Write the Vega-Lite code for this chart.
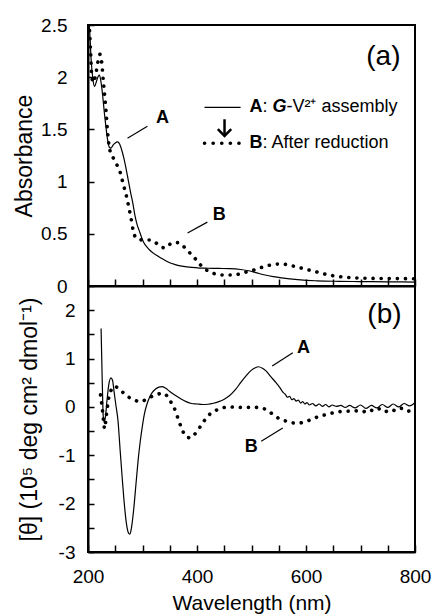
{
  "$schema": "https://vega.github.io/schema/vega-lite/v6.json",
  "background": "white",
  "padding": {"left": 12, "top": 15, "right": 0, "bottom": 0},
  "spacing": 0,
  "bounds": "flush",
  "config": {
    "font": "Liberation Sans",
    "view": {"stroke": "black", "strokeWidth": 2},
    "axis": {
      "grid": false, "domainColor": "black", "domainWidth": 2,
      "tickColor": "black", "tickWidth": 1.5,
      "labelColor": "black", "titleColor": "black",
      "labelFont": "Liberation Sans", "titleFont": "Liberation Sans",
      "labelFontSize": 19, "titleFontSize": 23, "titleFontWeight": "normal"
    },
    "concat": {"spacing": 0}
  },
  "datasets": {
    "absA": [
      {"nm": 201, "v": 2.6}, {"nm": 203, "v": 2.45}, {"nm": 206, "v": 2.15}, {"nm": 209, "v": 1.98},
      {"nm": 212, "v": 1.91}, {"nm": 215, "v": 1.95}, {"nm": 218, "v": 2.0}, {"nm": 221, "v": 2.02},
      {"nm": 224, "v": 1.95}, {"nm": 227, "v": 1.82}, {"nm": 230, "v": 1.66}, {"nm": 233, "v": 1.52},
      {"nm": 236, "v": 1.4}, {"nm": 239, "v": 1.33}, {"nm": 242, "v": 1.32}, {"nm": 246, "v": 1.35},
      {"nm": 250, "v": 1.37}, {"nm": 254, "v": 1.38}, {"nm": 258, "v": 1.36}, {"nm": 262, "v": 1.3},
      {"nm": 266, "v": 1.22}, {"nm": 270, "v": 1.12}, {"nm": 274, "v": 1.01}, {"nm": 278, "v": 0.9},
      {"nm": 282, "v": 0.8}, {"nm": 286, "v": 0.68}, {"nm": 290, "v": 0.59}, {"nm": 294, "v": 0.53},
      {"nm": 298, "v": 0.47}, {"nm": 302, "v": 0.42}, {"nm": 308, "v": 0.375}, {"nm": 314, "v": 0.34},
      {"nm": 320, "v": 0.315}, {"nm": 330, "v": 0.28}, {"nm": 340, "v": 0.25}, {"nm": 350, "v": 0.222},
      {"nm": 360, "v": 0.205}, {"nm": 375, "v": 0.188}, {"nm": 390, "v": 0.178}, {"nm": 405, "v": 0.172},
      {"nm": 420, "v": 0.17}, {"nm": 440, "v": 0.168}, {"nm": 460, "v": 0.166}, {"nm": 480, "v": 0.158},
      {"nm": 495, "v": 0.146}, {"nm": 510, "v": 0.125}, {"nm": 525, "v": 0.105}, {"nm": 540, "v": 0.09},
      {"nm": 555, "v": 0.078}, {"nm": 570, "v": 0.068}, {"nm": 590, "v": 0.058}, {"nm": 620, "v": 0.05},
      {"nm": 660, "v": 0.045}, {"nm": 700, "v": 0.042}, {"nm": 750, "v": 0.04}, {"nm": 800, "v": 0.038}
    ],
    "absB": [
      {"nm": 201, "v": 2.6}, {"nm": 203, "v": 2.44}, {"nm": 205, "v": 2.22}, {"nm": 207, "v": 2.0},
      {"nm": 210, "v": 1.95}, {"nm": 214, "v": 2.02}, {"nm": 218, "v": 2.14}, {"nm": 222, "v": 2.22},
      {"nm": 225, "v": 2.15}, {"nm": 228, "v": 1.97}, {"nm": 230, "v": 1.86}, {"nm": 233, "v": 1.68},
      {"nm": 236, "v": 1.47}, {"nm": 239, "v": 1.33}, {"nm": 242, "v": 1.27}, {"nm": 246, "v": 1.23},
      {"nm": 252, "v": 1.17}, {"nm": 259, "v": 1.09}, {"nm": 263, "v": 1.01}, {"nm": 267, "v": 0.93},
      {"nm": 271, "v": 0.85}, {"nm": 275, "v": 0.75}, {"nm": 279, "v": 0.65}, {"nm": 283, "v": 0.53},
      {"nm": 288, "v": 0.46}, {"nm": 294, "v": 0.445}, {"nm": 303, "v": 0.44}, {"nm": 312, "v": 0.44},
      {"nm": 318, "v": 0.435}, {"nm": 328, "v": 0.4}, {"nm": 336, "v": 0.37}, {"nm": 342, "v": 0.365},
      {"nm": 348, "v": 0.39}, {"nm": 355, "v": 0.415}, {"nm": 365, "v": 0.415}, {"nm": 372, "v": 0.395},
      {"nm": 380, "v": 0.355}, {"nm": 389, "v": 0.305}, {"nm": 397, "v": 0.26}, {"nm": 405, "v": 0.21},
      {"nm": 412, "v": 0.175}, {"nm": 420, "v": 0.145}, {"nm": 434, "v": 0.115}, {"nm": 448, "v": 0.105},
      {"nm": 463, "v": 0.105}, {"nm": 478, "v": 0.115}, {"nm": 492, "v": 0.137}, {"nm": 506, "v": 0.155},
      {"nm": 520, "v": 0.18}, {"nm": 534, "v": 0.2}, {"nm": 548, "v": 0.21}, {"nm": 562, "v": 0.207},
      {"nm": 577, "v": 0.19}, {"nm": 591, "v": 0.172}, {"nm": 605, "v": 0.153}, {"nm": 620, "v": 0.134},
      {"nm": 634, "v": 0.115}, {"nm": 649, "v": 0.099}, {"nm": 663, "v": 0.089}, {"nm": 677, "v": 0.082},
      {"nm": 692, "v": 0.077}, {"nm": 710, "v": 0.074}, {"nm": 740, "v": 0.072}, {"nm": 770, "v": 0.071},
      {"nm": 800, "v": 0.07}
    ],
    "cdA": [
      {"nm": 224, "v": 1.62}, {"nm": 226, "v": 0.6}, {"nm": 228, "v": -0.2}, {"nm": 230, "v": -0.32},
      {"nm": 232, "v": -0.2}, {"nm": 235, "v": 0.15}, {"nm": 238, "v": 0.45}, {"nm": 242, "v": 0.6},
      {"nm": 245, "v": 0.55}, {"nm": 248, "v": 0.3}, {"nm": 251, "v": 0.05}, {"nm": 255, "v": -0.28},
      {"nm": 259, "v": -0.9}, {"nm": 263, "v": -1.5}, {"nm": 267, "v": -2.05}, {"nm": 271, "v": -2.45},
      {"nm": 275, "v": -2.62}, {"nm": 277, "v": -2.63}, {"nm": 280, "v": -2.48}, {"nm": 284, "v": -2.1},
      {"nm": 288, "v": -1.6}, {"nm": 292, "v": -1.1}, {"nm": 296, "v": -0.7}, {"nm": 300, "v": -0.38},
      {"nm": 304, "v": -0.12}, {"nm": 308, "v": 0.05}, {"nm": 313, "v": 0.2}, {"nm": 318, "v": 0.3},
      {"nm": 324, "v": 0.37}, {"nm": 330, "v": 0.41}, {"nm": 336, "v": 0.42}, {"nm": 342, "v": 0.39},
      {"nm": 350, "v": 0.32}, {"nm": 360, "v": 0.24}, {"nm": 370, "v": 0.17}, {"nm": 380, "v": 0.11},
      {"nm": 390, "v": 0.07}, {"nm": 400, "v": 0.06}, {"nm": 410, "v": 0.05}, {"nm": 420, "v": 0.055},
      {"nm": 430, "v": 0.075}, {"nm": 440, "v": 0.11}, {"nm": 450, "v": 0.16}, {"nm": 460, "v": 0.235},
      {"nm": 470, "v": 0.35}, {"nm": 480, "v": 0.5}, {"nm": 490, "v": 0.64}, {"nm": 500, "v": 0.76},
      {"nm": 507, "v": 0.81}, {"nm": 513, "v": 0.83}, {"nm": 520, "v": 0.8}, {"nm": 527, "v": 0.74},
      {"nm": 535, "v": 0.63}, {"nm": 545, "v": 0.5}, {"nm": 552, "v": 0.4}, {"nm": 558, "v": 0.3},
      {"nm": 562, "v": 0.26}, {"nm": 566, "v": 0.2}, {"nm": 570, "v": 0.22}, {"nm": 574, "v": 0.15},
      {"nm": 578, "v": 0.17}, {"nm": 582, "v": 0.12}, {"nm": 586, "v": 0.14}, {"nm": 590, "v": 0.08},
      {"nm": 594, "v": 0.11}, {"nm": 598, "v": 0.06}, {"nm": 602, "v": 0.09}, {"nm": 606, "v": 0.04},
      {"nm": 612, "v": 0.07}, {"nm": 618, "v": 0.02}, {"nm": 624, "v": 0.06}, {"nm": 630, "v": 0.01},
      {"nm": 636, "v": 0.05}, {"nm": 642, "v": 0.0}, {"nm": 648, "v": 0.04}, {"nm": 656, "v": 0.01},
      {"nm": 664, "v": 0.03}, {"nm": 672, "v": -0.01}, {"nm": 680, "v": 0.03}, {"nm": 690, "v": -0.02},
      {"nm": 700, "v": 0.04}, {"nm": 710, "v": -0.03}, {"nm": 720, "v": 0.03}, {"nm": 730, "v": -0.02},
      {"nm": 740, "v": 0.05}, {"nm": 750, "v": -0.01}, {"nm": 760, "v": 0.06}, {"nm": 770, "v": 0.0},
      {"nm": 780, "v": 0.07}, {"nm": 790, "v": 0.02}, {"nm": 800, "v": 0.09}
    ],
    "cdB": [
      {"nm": 223, "v": 0.25}, {"nm": 225, "v": 0.08}, {"nm": 227, "v": -0.12}, {"nm": 229, "v": -0.35},
      {"nm": 230.5, "v": -0.45}, {"nm": 232, "v": -0.35}, {"nm": 234, "v": -0.15}, {"nm": 236, "v": 0.03},
      {"nm": 238, "v": 0.18}, {"nm": 241, "v": 0.3}, {"nm": 246, "v": 0.42}, {"nm": 252, "v": 0.41},
      {"nm": 258, "v": 0.36}, {"nm": 264, "v": 0.3}, {"nm": 272, "v": 0.22}, {"nm": 280, "v": 0.17},
      {"nm": 288, "v": 0.13}, {"nm": 295, "v": 0.11}, {"nm": 302, "v": 0.13}, {"nm": 310, "v": 0.18},
      {"nm": 318, "v": 0.22}, {"nm": 326, "v": 0.25}, {"nm": 334, "v": 0.28}, {"nm": 340, "v": 0.275},
      {"nm": 346, "v": 0.21}, {"nm": 351, "v": 0.12}, {"nm": 356, "v": 0.03}, {"nm": 361, "v": -0.1},
      {"nm": 366, "v": -0.27}, {"nm": 371, "v": -0.42}, {"nm": 377, "v": -0.57}, {"nm": 383, "v": -0.63},
      {"nm": 388, "v": -0.64}, {"nm": 393, "v": -0.6}, {"nm": 399, "v": -0.52}, {"nm": 404, "v": -0.44},
      {"nm": 408, "v": -0.38}, {"nm": 415, "v": -0.26}, {"nm": 424, "v": -0.145}, {"nm": 435, "v": -0.07},
      {"nm": 447, "v": -0.02}, {"nm": 460, "v": 0.0}, {"nm": 475, "v": -0.01}, {"nm": 490, "v": -0.01},
      {"nm": 508, "v": -0.01}, {"nm": 520, "v": -0.03}, {"nm": 530, "v": -0.07}, {"nm": 538, "v": -0.145},
      {"nm": 546, "v": -0.21}, {"nm": 556, "v": -0.27}, {"nm": 566, "v": -0.3}, {"nm": 576, "v": -0.33},
      {"nm": 585, "v": -0.34}, {"nm": 594, "v": -0.32}, {"nm": 603, "v": -0.29}, {"nm": 612, "v": -0.25},
      {"nm": 625, "v": -0.19}, {"nm": 637, "v": -0.16}, {"nm": 649, "v": -0.125}, {"nm": 661, "v": -0.1},
      {"nm": 675, "v": -0.09}, {"nm": 690, "v": -0.08}, {"nm": 705, "v": -0.1}, {"nm": 715, "v": -0.05},
      {"nm": 725, "v": -0.09}, {"nm": 735, "v": -0.04}, {"nm": 745, "v": -0.1}, {"nm": 755, "v": -0.05},
      {"nm": 765, "v": -0.08}, {"nm": 775, "v": -0.03}, {"nm": 785, "v": -0.09}, {"nm": 800, "v": -0.04}
    ],
    "letA": [{"nm": 336.7, "v": 1.606, "t": "A"}, {"nm": 441, "v": 0.679, "t": "B"}],
    "leadA": [{"nm": 272.5, "v": 1.415, "nm2": 309, "v2": 1.53}, {"nm": 382.6, "v": 0.507, "nm2": 419, "v2": 0.612}],
    "legBold": [{"nm": 496.3, "v": 1.711, "t": "A"}, {"nm": 496.3, "v": 1.367, "t": "B"}],
    "legNormal": [{"nm": 520.2, "v": 1.711, "t": ":"}, {"nm": 564.2, "v": 1.711, "t": "-V²⁺ assembly"}, {"nm": 520.2, "v": 1.367, "t": ": After reduction"}],
    "legItalic": [{"nm": 538.5, "v": 1.711, "t": "G"}],
    "legSolid": [{"nm": 413.8, "v": 1.711, "nm2": 480, "v2": 1.711}],
    "legDotted": [{"nm": 413.8, "v": 1.367, "nm2": 480, "v2": 1.367}],
    "arrow": [{"nm": 450.5, "v": 1.597, "nm2": 450.5, "v2": 1.45}],
    "arrowHead": [{"nm": 450.5, "v": 1.438}],
    "panelA": [{"nm": 742, "v": 2.19, "t": "(a)"}],
    "letB": [{"nm": 595.4, "v": 1.218, "t": "A"}, {"nm": 499.4, "v": -0.836, "t": "B"}],
    "leadB": [{"nm": 538, "v": 0.844, "nm2": 575.8, "v2": 1.12}, {"nm": 517.8, "v": -0.712, "nm2": 557.4, "v2": -0.436}],
    "panelB": [{"nm": 744, "v": 1.909, "t": "(b)"}]
  },
  "vconcat": [
    {
      "width": 327,
      "height": 261,
      "encoding": {
        "x": {"field": "nm", "type": "quantitative", "scale": {"domain": [200, 800], "nice": false},
          "axis": {"orient": "bottom", "labels": false, "title": null, "tickSize": -7,
            "values": [200, 250, 300, 350, 400, 450, 500, 550, 600, 650, 700, 750, 800]}},
        "y": {"field": "v", "type": "quantitative", "scale": {"domain": [0, 2.5], "nice": false},
          "axis": {"title": "Absorbance", "tickSize": -6, "labelPadding": 27, "titlePadding": 4, "labelFlush": false,
            "values": [0, 0.5, 1, 1.5, 2, 2.5], "labelExpr": "'' + datum.value"}}
      },
      "layer": [
        {"data": {"name": "absA"}, "mark": {"type": "line", "color": "black", "strokeWidth": 1.2, "clip": true, "interpolate": "monotone"}},
        {"data": {"name": "absB"}, "mark": {"type": "line", "color": "black", "strokeWidth": 3.6, "strokeDash": [0.1, 8], "strokeCap": "round", "clip": true, "interpolate": "monotone"}},
        {"data": {"name": "leadA"}, "mark": {"type": "rule", "color": "black", "strokeWidth": 1.2},
          "encoding": {"x2": {"field": "nm2"}, "y2": {"field": "v2"}}},
        {"data": {"name": "letA"}, "mark": {"type": "text", "fontSize": 18, "fontWeight": "bold", "align": "center", "baseline": "middle", "color": "black"},
          "encoding": {"text": {"field": "t"}}},
        {"data": {"name": "legSolid"}, "mark": {"type": "rule", "color": "black", "strokeWidth": 1.2},
          "encoding": {"x2": {"field": "nm2"}, "y2": {"field": "v2"}}},
        {"data": {"name": "legDotted"}, "mark": {"type": "rule", "color": "black", "strokeWidth": 3.6, "strokeDash": [0.1, 8.5], "strokeCap": "round"},
          "encoding": {"x2": {"field": "nm2"}, "y2": {"field": "v2"}}},
        {"data": {"name": "arrow"}, "mark": {"type": "rule", "color": "black", "strokeWidth": 2.5},
          "encoding": {"x2": {"field": "nm2"}, "y2": {"field": "v2"}}},
        {"data": {"name": "arrowHead"}, "mark": {"type": "point", "shape": "M-1,-1L0,0L1,-1", "filled": false, "color": "black", "strokeWidth": 2.5, "size": 180, "opacity": 1}},
        {"data": {"name": "legBold"}, "mark": {"type": "text", "fontSize": 18, "fontWeight": "bold", "align": "left", "baseline": "middle", "color": "black"},
          "encoding": {"text": {"field": "t"}}},
        {"data": {"name": "legNormal"}, "mark": {"type": "text", "fontSize": 18, "align": "left", "baseline": "middle", "color": "black"},
          "encoding": {"text": {"field": "t"}}},
        {"data": {"name": "legItalic"}, "mark": {"type": "text", "fontSize": 18, "fontWeight": "bold", "fontStyle": "italic", "align": "left", "baseline": "middle", "color": "black"},
          "encoding": {"text": {"field": "t"}}},
        {"data": {"name": "panelA"}, "mark": {"type": "text", "fontSize": 28, "align": "center", "baseline": "middle", "color": "black"},
          "encoding": {"text": {"field": "t"}}}
      ]
    },
    {
      "width": 327,
      "height": 266,
      "encoding": {
        "x": {"field": "nm", "type": "quantitative", "scale": {"domain": [200, 800], "nice": false},
          "axis": {"orient": "bottom", "title": "Wavelength (nm)", "titleFontSize": 21, "tickSize": -7, "labelPadding": 22, "titlePadding": 6, "labelFlush": false,
            "values": [200, 250, 300, 350, 400, 450, 500, 550, 600, 650, 700, 750, 800],
            "labelExpr": "datum.value % 200 === 0 ? '' + datum.value : ''"}},
        "y": {"field": "v", "type": "quantitative", "scale": {"domain": [-3, 2.5], "nice": false},
          "axis": {"title": "[θ] (10⁵ deg cm² dmol⁻¹)", "tickSize": -6, "labelPadding": 19, "titlePadding": 17, "labelFlush": false,
            "values": [-3, -2.5, -2, -1.5, -1, -0.5, 0, 0.5, 1, 1.5, 2],
            "labelExpr": "datum.value % 1 === 0 ? '' + datum.value : ''"}}
      },
      "layer": [
        {"mark": {"type": "rule", "color": "#808080", "strokeWidth": 1.2}, "encoding": {"x": null, "y": {"datum": 0}}},
        {"data": {"name": "cdA"}, "mark": {"type": "line", "color": "black", "strokeWidth": 1.2, "clip": true, "interpolate": "monotone"}},
        {"data": {"name": "cdB"}, "mark": {"type": "line", "color": "black", "strokeWidth": 3.6, "strokeDash": [0.1, 8], "strokeCap": "round", "clip": true, "interpolate": "monotone"}},
        {"data": {"name": "leadB"}, "mark": {"type": "rule", "color": "black", "strokeWidth": 1.2},
          "encoding": {"x2": {"field": "nm2"}, "y2": {"field": "v2"}}},
        {"data": {"name": "letB"}, "mark": {"type": "text", "fontSize": 18, "fontWeight": "bold", "align": "center", "baseline": "middle", "color": "black"},
          "encoding": {"text": {"field": "t"}}},
        {"data": {"name": "panelB"}, "mark": {"type": "text", "fontSize": 28, "align": "center", "baseline": "middle", "color": "black"},
          "encoding": {"text": {"field": "t"}}}
      ]
    }
  ]
}
